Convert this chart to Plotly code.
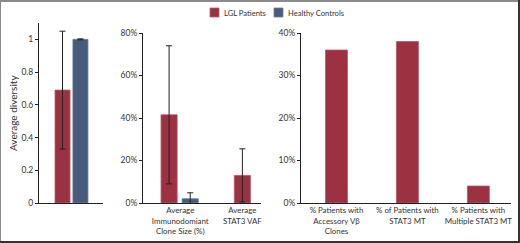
import plotly.graph_objects as go

# ---- data ----
series_names = ["LGL Patients", "Healthy Controls"]
colors = ["#9c3142", "#475c7c"]

div_cat = ["Diversity"]
div_lgl = [0.69]
div_lgl_err = [0.36]
div_hc = [1.0]
div_hc_err = [0.003]

pct_cats = ["Average<br>Immunodomiant<br>Clone Size (%)", "Average<br>STAT3 VAF"]
pct_lgl = [0.415, 0.13]
pct_lgl_err = [0.325, 0.125]
pct_hc_cats = ["Average<br>Immunodomiant<br>Clone Size (%)"]
pct_hc = [0.02]
pct_hc_err = [0.028]

pat_cats = ["% Patients with<br>Accessory Vβ<br>Clones", "% of Patients with<br>STAT3 MT",
            "% Patients with<br>Multiple STAT3 MT"]
pat_lgl = [0.36, 0.38, 0.04]

W, H = 520, 243
def px(x): return x / W
def py(y): return 1 - y / H

FONT = "Lato"
TXT = "#333333"
err_style = dict(type="data", thickness=1, width=3, color="#222222")
line_red = dict(color="#b85a68", width=0.8)
line_blue = dict(color="#6a7c98", width=0.8)
line_cols = [line_red["color"], line_blue["color"]]

fig = go.Figure()

# panel 1
fig.add_trace(go.Bar(x=div_cat, y=div_lgl, name=series_names[0], marker=dict(color=colors[0], line=line_red),
                     width=0.235, offset=-0.25, error_y=dict(array=div_lgl_err, **err_style),
                     xaxis="x", yaxis="y"))
fig.add_trace(go.Bar(x=div_cat, y=div_hc, name=series_names[1], marker=dict(color=colors[1], line=line_blue),
                     width=0.235, offset=0.03, error_y=dict(array=div_hc_err, **err_style),
                     xaxis="x", yaxis="y"))
# panel 2
fig.add_trace(go.Bar(x=pct_cats, y=pct_lgl, name=series_names[0], marker=dict(color=colors[0], line=line_red),
                     width=0.26, offset=[-0.31, -0.13], error_y=dict(array=pct_lgl_err, **err_style),
                     xaxis="x2", yaxis="y2"))
fig.add_trace(go.Bar(x=pct_hc_cats, y=pct_hc, name=series_names[1], marker=dict(color=colors[1], line=line_blue),
                     width=0.26, offset=0.03, error_y=dict(array=pct_hc_err, **err_style),
                     xaxis="x2", yaxis="y2"))
# panel 3
fig.add_trace(go.Bar(x=pat_cats, y=pat_lgl, name=series_names[0], marker=dict(color=colors[0], line=line_red),
                     width=0.31, xaxis="x3", yaxis="y3"))

ax_common = dict(showline=True, linecolor="#222222", linewidth=1, showgrid=False, zeroline=False,
                 automargin=False, tickangle=0)
xfont = dict(family=FONT, size=7.9, color=TXT)
yfont = dict(family=FONT, size=8.5, color=TXT)
ydom = [py(203), py(33)]

fig.update_layout(
    width=W, height=H,
    margin=dict(l=0, r=0, t=0, b=0),
    paper_bgcolor="white", plot_bgcolor="white",
    barmode="overlay",
    font=dict(family=FONT, size=9, color=TXT),
    showlegend=False,
    xaxis=dict(domain=[px(39), px(103)], range=[-0.5, 0.5], showticklabels=False, ticks="",
               anchor="y", tickfont=xfont, **ax_common),
    yaxis=dict(domain=[py(203), py(23)], range=[0, 1.1], tickvals=[0, 0.2, 0.4, 0.6, 0.8, 1],
               ticktext=["0", "0.2", "0.4", "0.6", "0.8", "1"], ticks="outside", ticklen=3,
               tickcolor="#222222", anchor="x", tickfont=yfont, **ax_common),
    xaxis2=dict(domain=[px(143), px(261)], range=[-0.6, 1.3], ticks="", anchor="y2",
                tickfont=xfont, **ax_common),
    yaxis2=dict(domain=ydom, range=[0, 0.8], tickvals=[0, 0.2, 0.4, 0.6, 0.8], tickformat=".0%",
                ticks="outside", ticklen=3, tickcolor="#222222", anchor="x2", tickfont=yfont, **ax_common),
    xaxis3=dict(domain=[px(301), px(511)], range=[-0.5, 2.46], ticks="", anchor="y3",
                tickfont=xfont, **ax_common),
    yaxis3=dict(domain=ydom, range=[0, 0.4], tickvals=[0, 0.1, 0.2, 0.3, 0.4], tickformat=".0%",
                ticks="outside", ticklen=3, tickcolor="#222222", anchor="x3", tickfont=yfont, **ax_common),
)

fig.add_annotation(text="Average diversity", x=px(13), y=py(113), xref="paper", yref="paper",
                   xanchor="center", yanchor="middle",
                   textangle=-90, showarrow=False, font=dict(family=FONT, size=10, color=TXT))

# legend (swatch + label)
for i, (name, col) in enumerate(zip(series_names, colors)):
    x0 = 210 + 64 * i
    fig.add_shape(type="rect", xref="paper", yref="paper", x0=px(x0), x1=px(x0 + 9),
                  y0=py(17), y1=py(8), fillcolor=col, line=dict(color=line_cols[i], width=0.8))
    fig.add_annotation(text=name, x=px(x0 + 12), y=py(12.5), xref="paper", yref="paper",
                       xanchor="left", yanchor="middle", showarrow=False,
                       font=dict(family=FONT, size=7.6, color=TXT))

# frame
fig.add_shape(type="line", xref="paper", yref="paper", x0=0, x1=1, y0=py(1), y1=py(1),
              line=dict(color="#8a8a8a", width=2))
fig.add_shape(type="line", xref="paper", yref="paper", x0=px(0.5), x1=px(0.5), y0=0, y1=1,
              line=dict(color="#8a8a8a", width=1))
fig.add_shape(type="line", xref="paper", yref="paper", x0=px(519), x1=px(519), y0=0, y1=1,
              line=dict(color="#333333", width=2))
fig.add_shape(type="line", xref="paper", yref="paper", x0=0, x1=1, y0=py(242), y1=py(242),
              line=dict(color="#333333", width=2))

fig.write_html("out.html", config={"displayModeBar": False},
               post_script="document.body.style.margin='0';")
